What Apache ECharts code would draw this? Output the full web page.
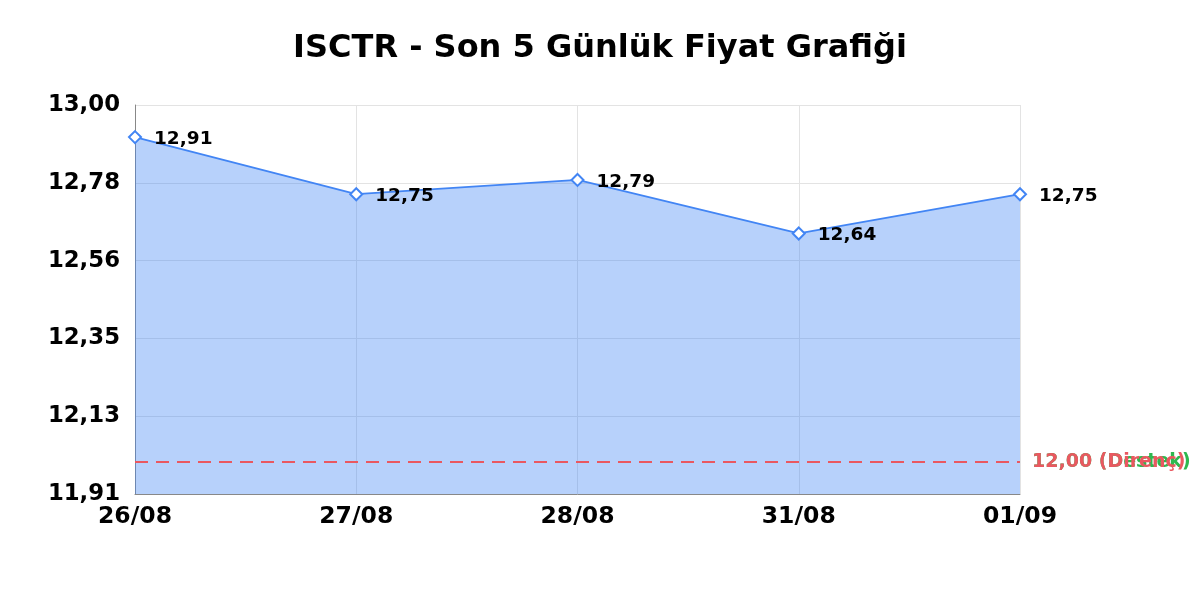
<!DOCTYPE html>
<html><head><meta charset="utf-8">
<script src="https://cdn.jsdelivr.net/npm/echarts@6/dist/echarts.min.js"></script>
<style>html,body{margin:0;padding:0;background:#fff}#c{width:1200px;height:600px}</style>
</head><body><div id="c"></div>
<script>
const categories = ['26/08','27/08','28/08','31/08','01/09'];
const prices = [12.91, 12.75, 12.79, 12.64, 12.75];
const supportLevel = 12.00;
const resistanceLevel = 12.00;
const yMin = 11.91, yMax = 13.00, yInterval = 0.218;
const fmt = v => v.toFixed(2).replace('.', ',');
const FF = '"DejaVu Sans", sans-serif';
const chart = echarts.init(document.getElementById('c'));
chart.setOption({
  animation:false,
  textStyle:{fontFamily:FF},
  title:{text:'ISCTR - Son 5 Günlük Fiyat Grafiği',left:'center',top:28,
    textStyle:{fontFamily:FF,fontWeight:'bold',fontSize:32,color:'#000'}},
  grid:{left:135,right:180,top:105,bottom:106},
  xAxis:{type:'category',data:categories,boundaryGap:false,
    axisLine:{lineStyle:{color:'#888'}},axisTick:{show:false},
    axisLabel:{color:'#000',fontFamily:FF,fontWeight:'bold',fontSize:23.5,margin:11},
    splitLine:{show:true,lineStyle:{color:'#e3e3e3'}}},
  yAxis:{type:'value',min:yMin,max:yMax,interval:yInterval,
    axisLine:{show:true,lineStyle:{color:'#888'}},axisTick:{show:false},
    axisLabel:{color:'#000',fontFamily:FF,fontWeight:'bold',fontSize:22.8,margin:15,formatter:fmt},
    splitLine:{show:true,lineStyle:{color:'#e3e3e3'}}},
  series:[{type:'line',data:prices,symbol:'diamond',symbolSize:12,
    itemStyle:{color:'#fff',borderColor:'#4285f4',borderWidth:2},
    lineStyle:{color:'#4285f4',width:1.8},
    areaStyle:{color:'#4285f4',opacity:0.38},
    label:{show:true,position:'right',distance:12,offset:[0,2],color:'#000',fontFamily:FF,fontWeight:'bold',fontSize:18.5,
      formatter:p=>fmt(p.value)},
    markLine:{symbol:'none',silent:true,
      data:[
        {yAxis:supportLevel,lineStyle:{color:'#2eb84f',type:[13,8],width:2},
         label:{position:'end',distance:12,formatter:fmt(supportLevel)+' (Destek)',color:'#2eb84f',fontFamily:FF,fontWeight:'bold',fontSize:19}},
        {yAxis:resistanceLevel,lineStyle:{color:'#ea5860',type:[13,8],width:2},
         label:{position:'end',distance:12,formatter:fmt(resistanceLevel)+' (Direnç)',color:'#ea5860',fontFamily:FF,fontWeight:'bold',fontSize:19}}
      ]}
  }]
});
</script></body></html>
